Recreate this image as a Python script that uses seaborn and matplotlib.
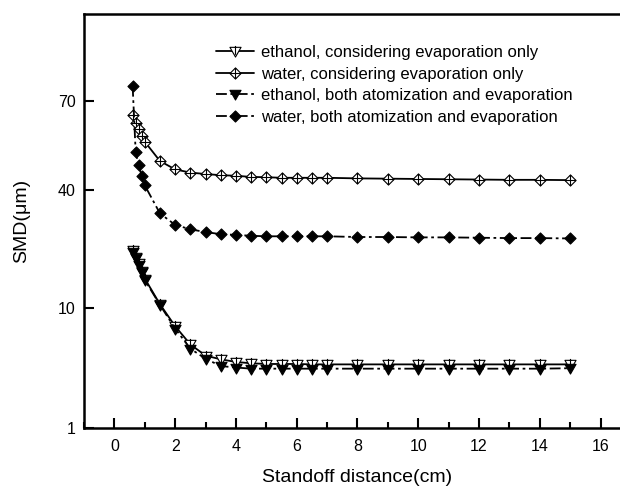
import numpy as np
import pandas as pd
import matplotlib
matplotlib.use("Agg")
import matplotlib.pyplot as plt
from matplotlib.path import Path
from matplotlib.ticker import FixedLocator, FixedFormatter, NullLocator, MultipleLocator
import seaborn as sns
from statistics import NormalDist
import math

# ---------------- data ----------------
x_vals = [0.6, 0.7, 0.8, 0.9, 1.0, 1.5, 2, 2.5, 3, 3.5, 4, 4.5, 5, 5.5, 6, 6.5, 7,
          8, 9, 10, 11, 12, 13, 14, 15]

ethanol_evap = [21.8, 20.2, 18.6, 17.0, 15.3, 10.6, 7.5, 5.5, 4.5, 4.2, 4.0, 3.9, 3.85, 3.85,
                3.85, 3.82, 3.82, 3.82, 3.82, 3.82, 3.82, 3.82, 3.82, 3.82, 3.82]
water_evap = [65.5, 63.1, 60.9, 58.7, 56.7, 50.0, 47.1, 46.0, 45.5, 45.1, 44.9, 44.5, 44.4, 44.2,
              44.2, 44.2, 44.2, 44.0, 43.9, 43.8, 43.7, 43.6, 43.5, 43.5, 43.4]
ethanol_both = [21.5, 19.85, 18.3, 16.6, 15.0, 10.5, 7.2, 5.1, 4.25, 3.7, 3.6, 3.52, 3.52, 3.52,
                3.52, 3.52, 3.52, 3.52, 3.52, 3.52, 3.52, 3.52, 3.52, 3.52, 3.55]
water_both = [74.4, 53.2, 48.5, 44.9, 41.6, 32.4, 28.9, 27.6, 26.8, 26.2, 26.0, 25.75, 25.6, 25.6,
              25.6, 25.6, 25.6, 25.4, 25.4, 25.3, 25.3, 25.2, 25.1, 25.1, 25.0]

labels = ["ethanol, considering evaporation only",
          "water, considering evaporation only",
          "ethanol, both atomization and evaporation",
          "water, both atomization and evaporation"]

y_ticks = [1, 10, 40, 70]
x_ticks = [0, 2, 4, 6, 8, 10, 12, 14, 16]

# ---------------- probability scale ----------------
_nd = NormalDist()
_ppf = np.vectorize(lambda p: _nd.inv_cdf(min(max(p / 100.0, 1e-9), 1 - 1e-9)), otypes=[float])
_cdf = np.vectorize(lambda z: 100.0 * 0.5 * (1 + math.erf(z / math.sqrt(2))), otypes=[float])


def fwd(y):
    return _ppf(np.asarray(y, dtype=float))


def inv(z):
    return _cdf(np.asarray(z, dtype=float))


# ---------------- markers ----------------
C = Path.CLOSEPOLY
M = Path.MOVETO
L = Path.LINETO
diamond_cross = Path(
    [(0, 1), (1, 0), (0, -1), (-1, 0), (0, 1), (-1, 0), (1, 0), (0, -1), (0, 1)],
    [M, L, L, L, C, M, L, M, L])
tri_cross = Path(
    [(-1, 0.75), (1, 0.75), (0, -1), (-1, 0.75), (0, 1.0), (0, -0.6)],
    [M, L, L, C, M, L])
diamond = Path([(0, 1), (1, 0), (0, -1), (-1, 0), (0, 1)], [M, L, L, L, C])
tri_down = Path([(-1, 0.75), (1, 0.75), (0, -1), (-1, 0.75)], [M, L, L, C])

# ---------------- figure ----------------
sns.set_theme(style="ticks")
plt.rcParams["font.family"] = ["Liberation Sans", "DejaVu Sans"]
plt.rcParams["text.color"] = "black"
plt.rcParams["axes.labelcolor"] = "black"
plt.rcParams["xtick.color"] = "black"
plt.rcParams["ytick.color"] = "black"

fig = plt.figure(figsize=(6.2, 4.87), dpi=100)
ax = fig.add_axes([84 / 620, (487 - 428) / 487, (631 - 84) / 620, (428 - 14) / 487])
ax.set_yscale("function", functions=(fwd, inv))

series = [
    (ethanol_evap, labels[0], "-", tri_cross, "white", 8),
    (water_evap, labels[1], "-", diamond_cross, "white", 8),
    (ethanol_both, labels[2], (0, (6, 2, 1.5, 2)), tri_down, "black", 8),
    (water_both, labels[3], (0, (6, 2, 1.5, 2)), diamond, "black", 8),
]
for vals, lab, ls, mk, fc, ms in series:
    df = pd.DataFrame({"x": x_vals, "y": vals})
    sns.lineplot(data=df, x="x", y="y", ax=ax, color="black", linestyle=ls, linewidth=1.3,
                 marker=mk, markersize=ms, markerfacecolor=fc, markeredgecolor="black",
                 markeredgewidth=0.8, label=lab, sort=False, estimator=None)

ax.set_xlim(-1, 17)
ax.set_ylim(1, 90)
ax.yaxis.set_major_locator(FixedLocator(y_ticks))
ax.yaxis.set_major_formatter(FixedFormatter([str(v) for v in y_ticks]))
ax.yaxis.set_minor_locator(NullLocator())
ax.xaxis.set_major_locator(FixedLocator(x_ticks))
ax.xaxis.set_minor_locator(MultipleLocator(1))

ax.tick_params(axis="both", which="major", direction="in", length=7, width=1.5,
               labelsize=11.5, color="black", labelcolor="black")
ax.tick_params(axis="x", which="minor", direction="in", length=4, width=1.5)
ax.tick_params(axis="x", which="major", pad=8)
ax.tick_params(axis="y", which="major", pad=6)

for side in ["left", "bottom", "top", "right"]:
    ax.spines[side].set_linewidth(1.8)
    ax.spines[side].set_color("black")

ax.set_xlabel("Standoff distance(cm)", fontsize=14, labelpad=11, color="black")
ax.set_ylabel("SMD(μm)", fontsize=14, labelpad=20, color="black")

leg = ax.legend(loc="upper left", bbox_to_anchor=(216 / 620, 1 - 45 / 487),
                bbox_transform=fig.transFigure, frameon=False, fontsize=12,
                handlelength=2.3, handletextpad=0.4, labelspacing=0.4, borderpad=0,
                borderaxespad=0, labelcolor="black")

fig.savefig("out.png", dpi=100)
